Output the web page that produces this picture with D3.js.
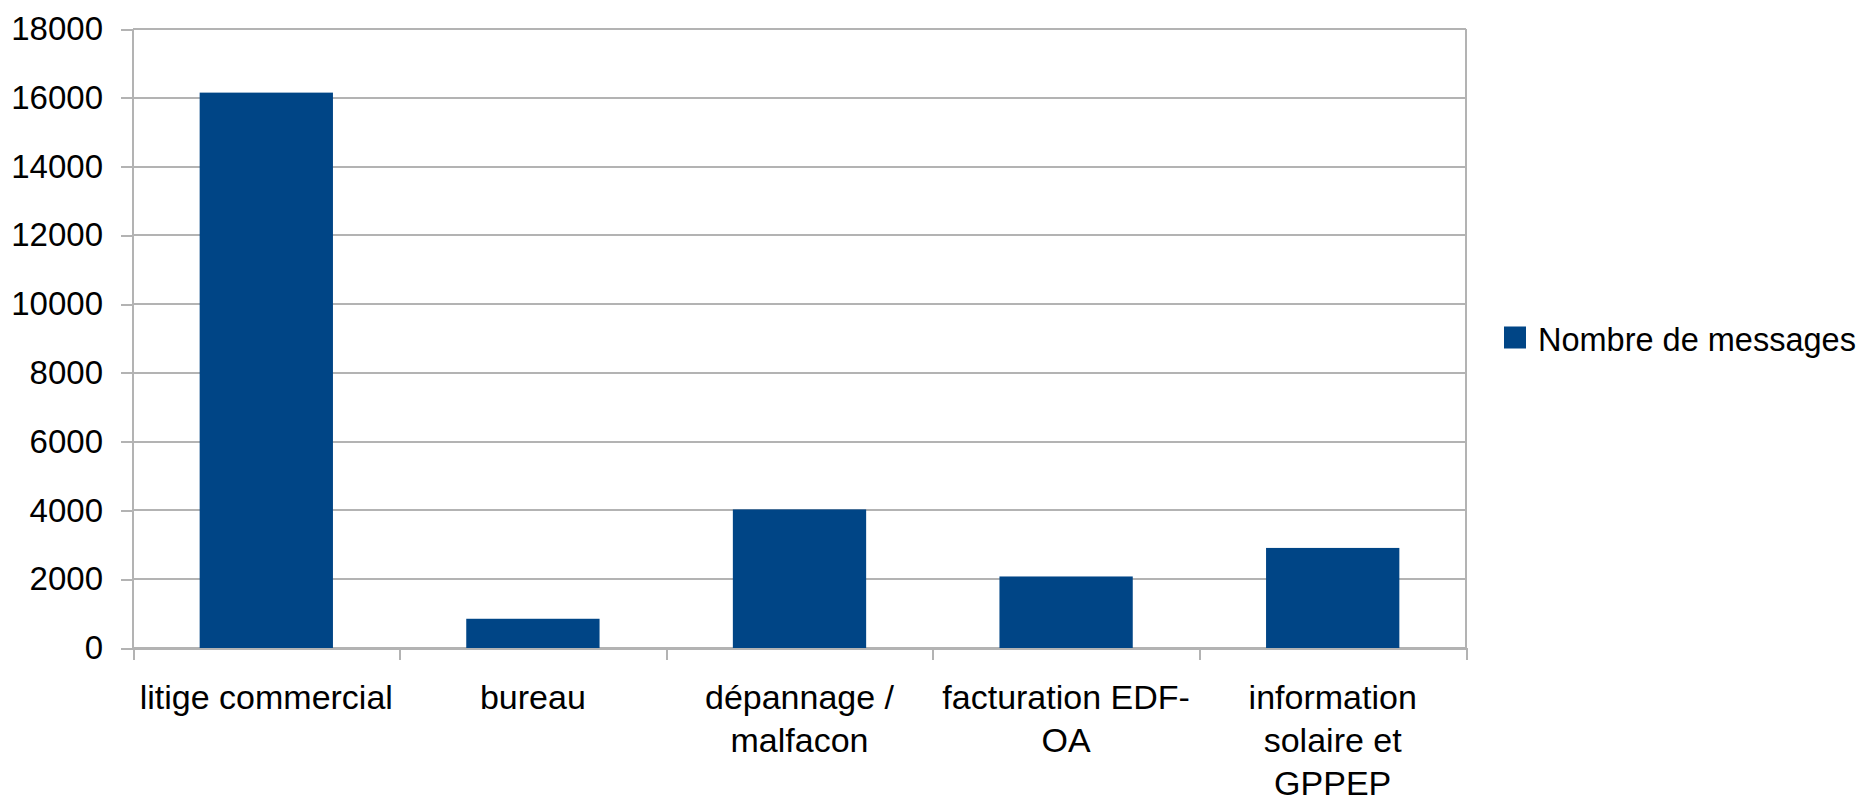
<!DOCTYPE html>
<meta charset="utf-8">
<style>
body { margin: 0; background: #fff; }
text { font-family: "Liberation Sans", Arial, sans-serif; fill: #000; }
.grid line { stroke: #b3b3b3; stroke-width: 2; shape-rendering: crispEdges; }
.axis path, .axis line { stroke: #b3b3b3; stroke-width: 2; shape-rendering: crispEdges; }
.axis text { font-size: 33px; fill: #000; }
</style>
<svg width="1859" height="803"></svg>
<script src="https://d3js.org/d3.v7.min.js"></script>
<script>

var categories = ["litige commercial", "bureau", "dépannage / malfacon", "facturation EDF-OA", "information solaire et GPPEP"];
var tickLines = [["litige commercial"], ["bureau"], ["dépannage /", "malfacon"], ["facturation EDF-", "OA"], ["information", "solaire et", "GPPEP"]];
var messages = [16150, 850, 4030, 2080, 2910];
var yTicks = [0, 2000, 4000, 6000, 8000, 10000, 12000, 14000, 16000, 18000];
var seriesName = "Nombre de messages";

var svg = d3.select("svg"),
    margin = {top: 29, right: 393, bottom: 155, left: 133},
    width = svg.attr("width") - margin.left - margin.right,
    height = svg.attr("height") - margin.top - margin.bottom;

var g = svg.append("g")
    .attr("transform", "translate(" + margin.left + "," + margin.top + ")");

var x = d3.scaleBand()
    .domain(categories)
    .range([0, width])
    .paddingInner(0.5)
    .paddingOuter(0.25);

// boundaries between categories, for the small tick marks
var xEdge = d3.scaleLinear()
    .domain([0, categories.length])
    .range([0, width]);

var y = d3.scaleLinear()
    .domain([0, 18000])
    .range([height, 0]);

// horizontal grid
g.append("g")
    .attr("class", "grid")
  .selectAll("line")
  .data(yTicks)
  .enter().append("line")
    .attr("x1", 0)
    .attr("x2", width)
    .attr("y1", function(d) { return y(d); })
    .attr("y2", function(d) { return y(d); });

// right border of plot
g.append("g")
    .attr("class", "axis")
  .append("line")
    .attr("x1", width).attr("x2", width)
    .attr("y1", 0).attr("y2", height);

// y axis
var yAxis = g.append("g")
    .attr("class", "axis")
    .call(d3.axisLeft(y).tickValues(yTicks).tickFormat(d3.format("d"))
      .tickSize(12).tickPadding(18).tickSizeOuter(0));
yAxis.select(".domain").remove();
yAxis.append("line")
    .attr("x1", 0).attr("x2", 0)
    .attr("y1", 0).attr("y2", height);

// x axis: ticks at category boundaries
g.append("g")
    .attr("class", "axis")
    .attr("transform", "translate(0," + height + ")")
    .call(d3.axisBottom(xEdge).tickValues(d3.range(categories.length + 1))
      .tickSize(12).tickFormat("").tickSizeOuter(0));

// bars
g.append("g")
  .selectAll("rect")
  .data(messages)
  .enter().append("rect")
    .attr("x", function(d, i) { return x(categories[i]); })
    .attr("y", function(d) { return y(d); })
    .attr("width", x.bandwidth())
    .attr("height", function(d) { return height - y(d); })
    .attr("fill", "#004586");

// category labels, wrapped as in the original
var labels = g.append("g")
  .selectAll("text")
  .data(categories)
  .enter().append("text")
    .attr("text-anchor", "middle")
    .attr("font-size", "34px")
    .attr("transform", function(d) { return "translate(" + (x(d) + x.bandwidth() / 2) + "," + (height + 61) + ")"; });

labels.selectAll("tspan")
  .data(function(d, i) { return tickLines[i]; })
  .enter().append("tspan")
    .attr("x", 0)
    .attr("y", function(d, j) { return j * 43; })
    .text(function(d) { return d; });

// legend
var legend = svg.append("g")
    .attr("transform", "translate(" + (margin.left + width + 38) + "," + (margin.top + y(9000)) + ")");

legend.append("rect")
    .attr("x", 0)
    .attr("y", -12)
    .attr("width", 22)
    .attr("height", 22)
    .attr("fill", "#004586");

legend.append("text")
    .attr("x", 34)
    .attr("y", 12)
    .attr("font-size", "32.5px")
    .text(seriesName);

</script>
